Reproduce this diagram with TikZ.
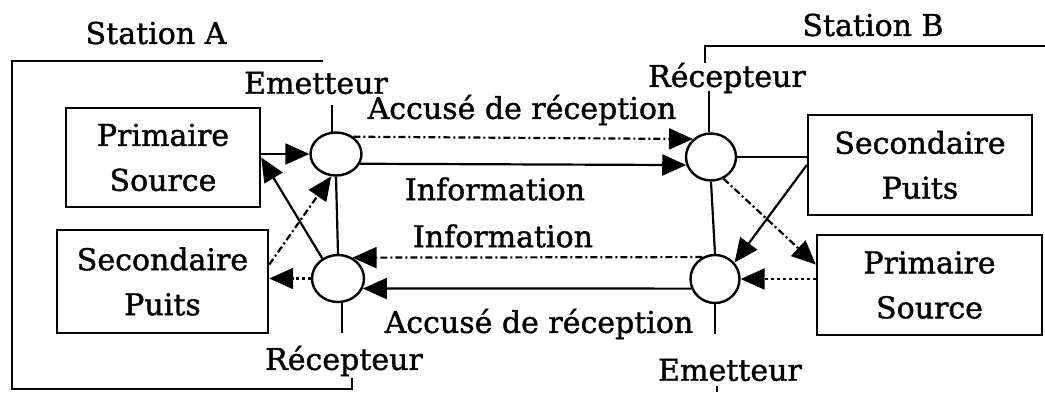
\documentclass[tikz,border=0pt]{standalone}
\usepackage{fontspec}
\setmainfont{DejaVu Serif}[FakeBold=1.2]
\usetikzlibrary{arrows.meta,shapes.geometric,calc}

\tikzset{
  lbl/.style={font=\fontsize{30}{45}\selectfont, inner sep=0pt, align=center},
  unit/.style={draw, line width=2.4pt, rectangle, inner sep=0pt, font=\fontsize{30}{45}\selectfont, align=center},
  port/.style={draw, line width=2.4pt, ellipse, inner sep=0pt},
  wire/.style={line width=2.2pt},
  tip/.style={-{Triangle[length=24pt,width=21pt]}},
  dashdot/.style={dash pattern=on 7pt off 3pt on 2pt off 3pt},
  dots/.style={dash pattern=on 3pt off 3pt},
}

\begin{document}
\begin{tikzpicture}[x=1pt,y=-1pt]
  \useasboundingbox (0,0) rectangle (1045,392);
  \fill[white] (0,0) rectangle (1045,392);

  % station titles and port labels
  \node[lbl] (stA)  at (156,33)  {Station A};
  \node[lbl] (stB)  at (873,25)  {Station B};
  \node[lbl] (emA)  at (316,83)  {Emetteur};
  \node[lbl] (recB) at (727,78)  {Récepteur};
  \node[lbl] (recA) at (344,361) {Récepteur};
  \node[lbl] (emB)  at (730,370) {Emetteur};

  % link labels
  \node[lbl] (ackT)  at (522,110) {Accusé de réception};
  \node[lbl] (infoT) at (495,189) {Information};
  \node[lbl] (infoB) at (503,236) {Information};
  \node[lbl] (ackB)  at (539,324) {Accusé de réception};

  % functional units
  \node[unit, minimum width=194pt, minimum height=99pt]  (psA) at (163,157.5) {Primaire\\Source};
  \node[unit, minimum width=211pt, minimum height=103pt] (spA) at (162.5,281.5) {Secondaire\\Puits};
  \node[unit, minimum width=224pt, minimum height=100pt] (spB) at (920,165) {Secondaire\\Puits};
  \node[unit, minimum width=225pt, minimum height=100pt] (psB) at (929.5,285) {Primaire\\Source};

  % transmitter / receiver ports
  \node[port, minimum width=51pt, minimum height=43pt] (cA1) at (336,154) {};
  \node[port, minimum width=52pt, minimum height=47pt] (cA2) at (338,278.5) {};
  \node[port, minimum width=50pt, minimum height=47pt] (cB1) at (711,157) {};
  \node[port, minimum width=49pt, minimum height=48pt] (cB2) at (715,279) {};

  % station A outline
  \coordinate (a1) at (323,61);
  \coordinate (a2) at (12,61);
  \coordinate (a3) at (12,389);
  \coordinate (a4) at (352,389);
  \coordinate (a5) at (352,378);
  \draw[wire] (a1) -- (a2) -- (a3) -- (a4) -- (a5);
  \coordinate (a6) at ($(cA1.100)+(0,-27)$);
  \draw[wire] (cA1.100) -- (a6);
  \coordinate (a7) at ($(cA2.-80)+(0,30)$);
  \draw[wire] (cA2.-80) -- (a7);

  % station B outline
  \coordinate (b1) at (1045,46);
  \coordinate (b2) at (705,46);
  \coordinate (b3) at (705,63);
  \draw[wire] (b1) -- (b2) -- (b3);
  \coordinate (b4) at ($(cB1.95)+(0,-41)$);
  \draw[wire] (cB1.95) -- (b4);
  \coordinate (b5) at ($(cB2.south)+(0,30)$);
  \draw[wire] (cB2.south) -- (b5);
  \coordinate (b6) at (717,386);
  \coordinate (b7) at (717,392);
  \draw[wire] (b6) -- (b7);

  % internal links, station A
  \draw[wire] (cA1.south) -- (cA2.north);
  \draw[wire, tip] (psA.east |- cA1.west) -- (cA1.west);
  \draw[wire, tip] (cA2.128) -- (psA.east);
  \coordinate (spAo) at ($(spA.north east)!0.34!(spA.south east)$);
  \draw[wire, dashdot, tip] (spAo) -- (cA1.258);
  \draw[wire, dots, tip] (cA2.west) -- (cA2.west -| spA.east);

  % internal links, station B
  \draw[wire] (cB1.south) -- (cB2.north);
  \draw[wire] (cB1.east) -- (cB1.east -| spB.west);
  \draw[wire, tip] (spB.west) -- (cB2.40);
  \coordinate (psBi) at ($(psB.north west)!0.3!(psB.south west)$);
  \draw[wire, dashdot, tip] (cB1.-60) -- (psBi);
  \draw[wire, dots, tip] (psB.west |- cB2.east) -- (cB2.east);

  % links between the stations
  \draw[wire, dashdot, tip] (cA1.45) -- (cB1.135);
  \draw[wire, tip] (cA1.-22) -- (cB1.198);
  \draw[wire, dashdot, tip] (cB2.120) -- (cA2.55);
  \draw[wire, tip] (cB2.202) -- (cA2.-22);
\end{tikzpicture}
\end{document}
